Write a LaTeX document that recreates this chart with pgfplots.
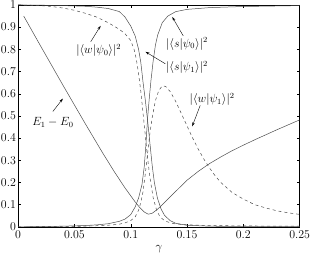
\documentclass[border=0pt]{standalone}
\usepackage{pgfplots}
\pgfplotsset{compat=1.18}
\usetikzlibrary{arrows.meta}
\begin{document}
\begin{tikzpicture}
\begin{axis}[
  scale only axis,
  width=283bp, height=223bp,
  xmin=0, xmax=0.25, ymin=0, ymax=1,
  xtick={0,0.05,0.1,0.15,0.2,0.25},
  xticklabels={0,0.05,0.1,0.15,0.2,0.25},
  ytick={0,0.1,0.2,0.3,0.4,0.5,0.6,0.7,0.8,0.9,1},
  yticklabels={0,0.1,0.2,0.3,0.4,0.5,0.6,0.7,0.8,0.9,1},
  tick label style={font=\fontsize{12}{14}\selectfont},
  xticklabel style={inner sep=1pt, yshift=-2.5pt},
  yticklabel style={inner sep=1pt, xshift=-1pt},
  major tick length=3bp,
  tick style={black, line width=0.4pt},
  axis line style={line width=0.6pt},
  xlabel={$\gamma$},
  xlabel style={font=\fontsize{12}{14}\selectfont, yshift=-2pt},
  every axis plot/.append style={line width=0.5pt, color=black!70},
  clip=true,
]
% E1 - E0
\addplot[solid] coordinates {
(0.005,0.95) (0.02,0.815) (0.04,0.637) (0.06,0.462) (0.075,0.334) (0.085,0.252)
(0.095,0.175) (0.1,0.14) (0.104,0.112) (0.108,0.087) (0.112,0.067)
(0.1155,0.057) (0.119,0.061) (0.123,0.076) (0.127,0.094) (0.132,0.12) (0.14,0.16)
(0.15,0.21) (0.16,0.25) (0.17,0.285) (0.18,0.315) (0.19,0.343) (0.2,0.368)
(0.21,0.392) (0.22,0.415) (0.23,0.438) (0.24,0.46) (0.25,0.482)
};
% |<s|psi0>|^2
\addplot[solid] coordinates {
(0,0) (0.02,0.001) (0.04,0.003) (0.06,0.006) (0.07,0.009) (0.08,0.014) (0.09,0.025)
(0.095,0.035) (0.1,0.055) (0.104,0.09) (0.107,0.13) (0.11,0.19) (0.112,0.27)
(0.1135,0.37) (0.115,0.49) (0.1165,0.58) (0.118,0.66) (0.12,0.75) (0.122,0.82)
(0.124,0.865) (0.128,0.92) (0.133,0.95) (0.14,0.97) (0.15,0.98) (0.17,0.988)
(0.2,0.993) (0.25,0.997)
};
% |<s|psi1>|^2
\addplot[solid] coordinates {
(0,1) (0.02,0.999) (0.04,0.997) (0.06,0.994) (0.07,0.99) (0.08,0.984) (0.09,0.97)
(0.095,0.945) (0.1,0.905) (0.104,0.86) (0.107,0.8) (0.109,0.74) (0.111,0.65)
(0.113,0.57) (0.115,0.48) (0.117,0.38) (0.119,0.28) (0.121,0.2) (0.1237,0.13)
(0.127,0.08) (0.13,0.052) (0.135,0.028) (0.14,0.016) (0.15,0.007) (0.17,0.003)
(0.2,0.001) (0.25,0.0005)
};
% |<w|psi0>|^2
\addplot[dashed] coordinates {
(0,1) (0.01,0.999) (0.02,0.997) (0.03,0.993) (0.04,0.986) (0.05,0.976) (0.06,0.962)
(0.07,0.945) (0.08,0.92) (0.09,0.89) (0.095,0.87) (0.1,0.84) (0.103,0.8)
(0.105,0.755) (0.107,0.69) (0.109,0.61) (0.111,0.51) (0.113,0.41) (0.115,0.31)
(0.117,0.225) (0.12,0.13) (0.123,0.075) (0.126,0.045) (0.13,0.028) (0.135,0.018)
(0.14,0.013) (0.15,0.009) (0.17,0.006) (0.2,0.004) (0.25,0.003)
};
% |<w|psi1>|^2
\addplot[dashed] coordinates {
(0,0) (0.04,0.001) (0.06,0.003) (0.08,0.007) (0.09,0.012) (0.095,0.018) (0.1,0.028)
(0.104,0.045) (0.107,0.075) (0.109,0.11) (0.111,0.16) (0.113,0.24) (0.115,0.33)
(0.117,0.42) (0.119,0.49) (0.122,0.57) (0.125,0.615) (0.128,0.635) (0.131,0.633)
(0.135,0.61) (0.14,0.565) (0.145,0.51) (0.15,0.455) (0.155,0.4) (0.16,0.35)
(0.165,0.305) (0.17,0.265) (0.175,0.23) (0.18,0.2) (0.19,0.155) (0.2,0.125)
(0.21,0.1) (0.22,0.085) (0.23,0.072) (0.24,0.063) (0.25,0.056)
};
% labels and arrows
\begin{scope}[font=\fontsize{12}{14}\selectfont]
\node at (axis cs:0.0716,0.794) {$|\langle w|\psi_0\rangle|^2$};
\draw[-{Stealth[length=4pt,width=2.5pt]}, line width=0.4pt] (axis cs:0.0645,0.834) -- (axis cs:0.0733,0.906);
\node at (axis cs:0.0309,0.471) {$E_1-E_0$};
\draw[-{Stealth[length=4pt,width=2.5pt]}, line width=0.4pt] (axis cs:0.0309,0.52) -- (axis cs:0.0398,0.578);
\node at (axis cs:0.150,0.825) {$|\langle s|\psi_0\rangle|^2$};
\draw[-{Stealth[length=4pt,width=2.5pt]}, line width=0.4pt] (axis cs:0.1466,0.861) -- (axis cs:0.1369,0.946);
\node at (axis cs:0.150,0.717) {$|\langle s|\psi_1\rangle|^2$};
\draw[-{Stealth[length=4pt,width=2.5pt]}, line width=0.4pt] (axis cs:0.1307,0.735) -- (axis cs:0.1131,0.789);
\node at (axis cs:0.1723,0.574) {$|\langle w|\psi_1\rangle|^2$};
\draw[-{Stealth[length=4pt,width=2.5pt]}, line width=0.4pt] (axis cs:0.1617,0.547) -- (axis cs:0.1546,0.453);
\end{scope}
\end{axis}
\end{tikzpicture}
\end{document}
